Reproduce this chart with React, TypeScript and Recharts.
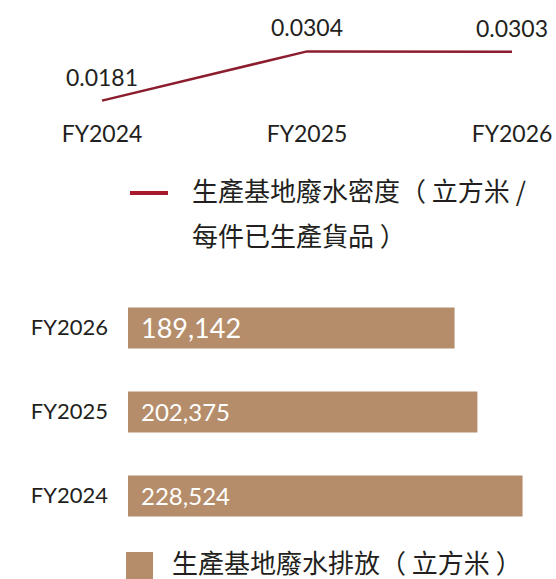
import React from 'react';
import { LineChart, Line, XAxis, YAxis, LabelList, BarChart, Bar } from 'recharts';

// ---- data ----
const years = ['FY2024', 'FY2025', 'FY2026'];
const intensityValues = [0.0181, 0.0304, 0.0303];
const dischargeValues = [228524, 202375, 189142];
const intensityName = '生產基地廢水密度（ 立方米 /\n每件已生產貨品 ）';
const dischargeName = '生產基地廢水排放（ 立方米 ）';

const lineData = years.map((y, i) => ({ year: y, intensity: intensityValues[i] }));
const barData = years.map((y, i) => ({ year: y, discharge: dischargeValues[i] }));

// ---- styles ----
const LATIN = 'Lato, "Noto Sans", sans-serif';
const CJK = '"Noto Sans CJK TC", "Noto Sans CJK SC", sans-serif';
const TEXT = '#231F20';
const LINE_COLOR = '#8C1D2E';
const LEGEND_LINE = '#A8192D';
const BAR_COLOR = '#B58D6B';

const renderValue = (props: any) => {
  const { x, y, height, value, index } = props;
  const latest = index === years.length - 1 || value === dischargeValues[years.length - 1];
  const fs = latest ? 27 : 24;
  const cy = Number(y) + Number(height) / 2;
  return (
    <text
      x={Number(x) + 13}
      y={cy + 0.36 * fs}
      fill="#ffffff"
      fontSize={fs}
      fontFamily={LATIN}
    >
      {Number(value).toLocaleString('en-US')}
    </text>
  );
};

export default function App() {
  return (
    <div
      style={{
        position: 'absolute',
        left: 0,
        top: 0,
        width: 556,
        height: 579,
        overflow: 'hidden',
        background: '#ffffff',
      }}
    >
      <div style={{ position: 'absolute', left: 0, top: 0 }}>
        <LineChart
          width={556}
          height={160}
          data={lineData}
          margin={{ top: 13, right: 0, bottom: 0, left: 0 }}
        >
          <XAxis
            dataKey="year"
            axisLine={false}
            tickLine={false}
            tickMargin={7}
            height={47}
            interval={0}
            padding={{ left: 102, right: 44 }}
            tick={{ fill: TEXT, fontSize: 23, fontFamily: LATIN }}
          />
          <YAxis hide domain={[0.015, 0.04]} />
          <Line
            dataKey="intensity"
            stroke={LINE_COLOR}
            strokeWidth={2.5}
            dot={false}
            isAnimationActive={false}
          >
            <LabelList
              dataKey="intensity"
              position="top"
              offset={15}
              fill={TEXT}
              fontSize={23}
              fontFamily={LATIN}
            />
          </Line>
        </LineChart>
      </div>

      {/* line legend */}
      <div
        style={{
          position: 'absolute',
          left: 130,
          top: 191,
          width: 38,
          height: 4,
          background: LEGEND_LINE,
        }}
      />
      <div
        style={{
          position: 'absolute',
          left: 192,
          top: 167,
          fontFamily: CJK,
          fontSize: 26,
          lineHeight: '45px',
          whiteSpace: 'pre',
          color: TEXT,
        }}
      >
        {intensityName}
      </div>

      <div style={{ position: 'absolute', left: 0, top: 280 }}>
        <BarChart
          width={556}
          height={270}
          data={barData}
          layout="vertical"
          margin={{ top: 5.5, right: 5, bottom: 12.5, left: 0 }}
        >
          <XAxis type="number" hide domain={[0, 245000]} />
          <YAxis
            type="category"
            dataKey="year"
            reversed
            width={128}
            axisLine={false}
            tickLine={false}
            tickMargin={14}
            interval={0}
            tick={{ fill: TEXT, fontSize: 22, fontFamily: LATIN }}
          />
          <Bar dataKey="discharge" fill={BAR_COLOR} barSize={41} isAnimationActive={false}>
            <LabelList dataKey="discharge" content={renderValue} />
          </Bar>
        </BarChart>
      </div>

      {/* bar legend */}
      <div
        style={{
          position: 'absolute',
          left: 126,
          top: 552,
          width: 27,
          height: 27,
          background: BAR_COLOR,
        }}
      />
      <div
        style={{
          position: 'absolute',
          left: 172,
          top: 547,
          fontFamily: CJK,
          fontSize: 26,
          lineHeight: '30px',
          whiteSpace: 'pre',
          color: TEXT,
        }}
      >
        {dischargeName}
      </div>
    </div>
  );
}
